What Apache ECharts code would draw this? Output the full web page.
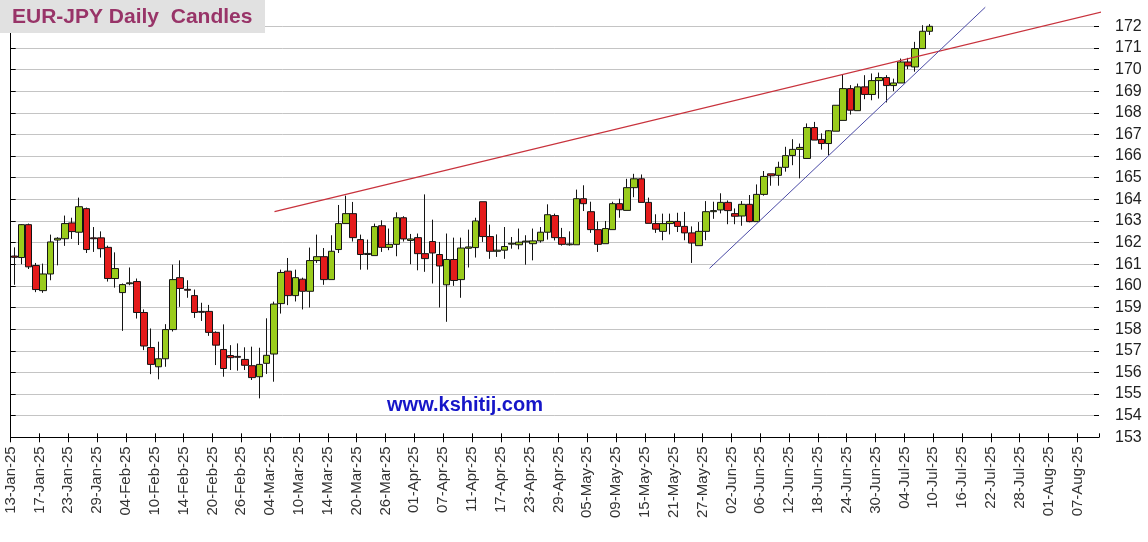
<!DOCTYPE html>
<html>
<head>
<meta charset="utf-8">
<script src="https://cdn.jsdelivr.net/npm/echarts@6/dist/echarts.min.js"></script>
<style>
html,body{margin:0;padding:0;background:#fff;}
#chart{width:1148px;height:542px;}
</style>
</head>
<body>
<div id="chart"></div>
<script>
// ---- data ----
const titleText = 'EUR-JPY Daily  Candles';
const siteText = 'www.kshitij.com';
const firstDay = '2025-01-13';   // first trading day on the axis
const axisDays = 151;            // weekdays spanned by the x axis
const labelEvery = 4;            // a tick label every 4 trading days
const yMin = 153, yMax = 172, yStep = 1;

const openVals = [
161.38,161.31,162.83,160.94,159.78,160.55,162.12,162.18,162.91,162.48,
163.57,162.22,162.22,161.78,160.34,159.69,160.10,160.20,158.77,157.15,
156.26,156.63,157.98,160.38,159.84,159.55,158.82,158.82,157.85,157.06,
156.78,156.74,156.60,156.31,155.80,156.42,156.85,159.18,160.68,159.55,
160.31,159.75,161.17,161.35,160.29,161.68,162.88,163.34,162.14,161.45,
161.40,162.78,161.78,161.92,163.15,162.10,162.23,161.49,162.05,161.45,
160.05,161.22,160.29,161.74,161.77,163.89,162.28,161.60,161.65,161.93,
161.90,162.03,161.95,162.08,162.48,163.25,162.23,161.90,161.90,164.03,
163.43,162.60,161.95,162.60,163.80,163.49,164.54,164.95,163.86,162.88,
162.52,162.88,162.98,162.75,162.45,161.86,162.52,163.43,163.51,163.86,
163.34,163.23,163.77,162.97,164.23,165.18,165.11,165.48,166.03,166.31,
165.89,167.32,166.77,166.58,167.15,167.65,169.12,168.10,169.20,168.85,
169.49,169.63,169.26,169.38,170.35,170.12,170.97,171.77];
const highVals = [
161.78,162.85,162.88,161.06,161.03,162.37,162.25,163.25,163.15,164.08,
163.62,162.72,162.52,161.86,161.55,160.11,160.85,160.34,158.91,158.03,
157.42,158.23,160.98,161.18,160.26,159.83,159.22,159.12,157.90,158.22,
157.26,157.34,157.16,157.19,157.14,158.50,159.27,160.75,161.29,160.75,
160.38,161.77,162.37,161.75,162.34,163.74,164.17,163.88,162.37,162.14,
162.88,163.03,162.65,163.40,163.22,162.40,162.42,164.23,163.06,162.03,
162.42,162.23,162.23,162.60,163.15,163.89,162.83,162.38,162.72,162.26,
162.65,162.34,162.65,162.72,163.77,163.34,162.68,162.52,164.45,164.65,
163.89,162.98,163.00,163.89,164.03,164.95,165.18,165.15,164.08,163.31,
163.34,163.34,163.38,163.42,162.75,162.95,163.92,163.89,164.28,163.95,
163.58,163.92,164.20,164.69,165.31,165.18,165.74,166.43,166.78,166.58,
167.51,167.58,167.05,167.20,168.35,169.77,169.28,169.35,169.74,169.82,
169.86,169.74,169.58,170.51,170.54,171.28,172.05,172.10];
const lowVals = [
160.05,161.00,160.78,159.71,159.68,160.26,160.95,161.85,162.17,161.89,
161.52,161.57,161.31,160.20,159.92,157.92,160.03,158.49,157.03,155.92,
155.68,156.26,157.89,159.03,159.45,158.52,158.38,157.69,156.34,155.80,
156.11,156.08,156.11,155.65,154.80,155.93,155.57,158.72,159.11,159.28,
158.91,159.00,161.06,160.05,160.29,161.52,162.88,162.05,160.75,160.75,
161.40,161.57,161.65,161.37,162.05,161.00,160.72,160.65,160.11,159.00,
158.34,160.00,159.45,160.85,161.31,162.03,161.25,161.34,161.25,161.72,
161.69,160.98,161.18,162.00,162.14,162.10,161.86,161.86,161.90,163.46,
162.45,161.57,161.95,162.60,163.15,163.49,164.10,163.86,162.89,162.45,
162.11,162.38,162.49,162.11,161.06,161.86,162.11,163.10,163.35,162.85,
162.85,162.78,162.94,162.97,164.17,164.63,164.63,165.28,165.58,164.97,
165.89,166.74,166.30,166.05,167.15,167.65,167.92,168.10,168.63,168.58,
168.66,168.48,169.00,169.38,170.02,169.90,170.97,171.60];
const closeVals = [
161.32,162.83,160.88,159.83,160.55,162.03,162.20,162.88,162.51,163.66,
161.68,162.18,161.72,160.34,160.80,160.06,160.14,158.77,157.22,156.37,
156.63,157.98,160.29,159.88,159.80,158.77,158.78,157.85,157.26,156.18,
156.68,156.70,156.33,155.76,156.37,156.79,159.16,160.62,159.55,160.38,
159.75,161.17,161.35,160.29,161.60,162.88,163.34,162.23,161.45,161.50,
162.74,161.78,161.92,163.15,162.17,162.17,161.49,161.26,161.52,160.92,
161.22,160.25,161.75,161.80,163.00,162.28,161.60,161.65,161.82,161.97,
162.02,162.07,162.08,162.48,163.29,162.23,161.92,161.94,164.03,163.80,
162.60,161.92,162.65,163.80,163.52,164.54,164.95,163.86,162.89,162.62,
162.88,162.98,162.75,162.45,161.98,162.52,163.43,163.48,163.86,163.48,
163.22,163.77,162.97,164.23,165.06,165.09,165.48,166.02,166.31,166.40,
167.32,166.74,166.58,167.17,168.35,169.12,168.12,169.20,168.85,169.49,
169.63,169.26,169.38,170.35,170.17,170.97,171.77,172.00];

// trend lines: [position in trading days from left edge, price]
const resistanceLine = [[36.6, 163.43], [154.75, 172.94]];
const supportLine = [[96.96, 160.81], [135.22, 172.88]];

// ---- build weekday categories ----
const MONTHS = ['Jan','Feb','Mar','Apr','May','Jun','Jul','Aug','Sep','Oct','Nov','Dec'];
function weekdayLabels(startISO, count) {
  const out = [];
  const d = new Date(startISO + 'T00:00:00Z');
  while (out.length < count) {
    const wd = d.getUTCDay();
    if (wd !== 0 && wd !== 6) {
      const dd = String(d.getUTCDate()).padStart(2, '0');
      const yy = String(d.getUTCFullYear()).slice(2);
      out.push(dd + '-' + MONTHS[d.getUTCMonth()] + '-' + yy);
    }
    d.setUTCDate(d.getUTCDate() + 1);
  }
  return out;
}
const dayCats = weekdayLabels(firstDay, axisDays);        // candle slots
const edgeCats = weekdayLabels(firstDay, axisDays + 1);   // slot edges (for labels)
const candleData = openVals.map((o, i) => [o, closeVals[i], lowVals[i], highVals[i]]);
const showLabel = (i) => i % labelEvery === 0 && i < axisDays - 1;

const FONT = '"Liberation Sans", Arial, sans-serif';
const chart = echarts.init(document.getElementById('chart'), null, {renderer: 'canvas'});
chart.setOption({
  backgroundColor: '#ffffff',
  animation: false,
  grid: {left: 10.7, right: 49, top: 26.3, bottom: 104.7, containLabel: false},
  xAxis: [
    {
      type: 'category', data: dayCats, boundaryGap: true, position: 'bottom',
      axisLine: {show: false},
      axisTick: {show: true, inside: true, length: 4, interval: (i) => i % labelEvery === 0, lineStyle: {color: '#000', width: 1}},
      axisLabel: {show: false}, splitLine: {show: false}
    },
    {
      type: 'category', data: edgeCats, boundaryGap: false, position: 'bottom',
      axisLine: {show: true, lineStyle: {color: '#000', width: 1}},
      axisTick: {show: true, length: 5, interval: (i) => showLabel(i), lineStyle: {color: '#000', width: 1}},
      axisLabel: {show: true, rotate: 90, interval: (i) => showLabel(i), fontSize: 15, fontFamily: FONT, color: '#333', margin: 9},
      splitLine: {show: false}
    },
    {type: 'value', min: 0, max: axisDays, show: false, position: 'top'}
  ],
  yAxis: [
    {
      type: 'value', position: 'right', min: yMin, max: yMax, interval: yStep,
      axisLine: {show: true, lineStyle: {color: '#000', width: 1}},
      axisTick: {show: true, length: 5, lineStyle: {color: '#000'}},
      axisLabel: {show: true, fontSize: 16, fontFamily: FONT, color: '#222', margin: 16},
      splitLine: {show: true, lineStyle: {color: '#c4c4c4', width: 1}}
    },
    {
      type: 'value', position: 'right', min: yMin, max: yMax, interval: yStep,
      axisLine: {show: false},
      axisTick: {show: true, inside: true, length: 5, lineStyle: {color: '#000'}},
      axisLabel: {show: false}, splitLine: {show: false}
    }
  ],
  series: [
    {
      type: 'candlestick', xAxisIndex: 0, yAxisIndex: 0, data: candleData,
      barWidth: 7, clip: false,
      itemStyle: {color: '#9acc1c', color0: '#e41b1b', borderColor: '#141414', borderColor0: '#141414', borderWidth: 1}
    },
    {
      type: 'line', xAxisIndex: 2, yAxisIndex: 0, data: resistanceLine, clip: false,
      symbol: 'none', lineStyle: {color: '#c8323c', width: 1.2}, z: 5
    },
    {
      type: 'line', xAxisIndex: 2, yAxisIndex: 0, data: supportLine, clip: false,
      symbol: 'none', lineStyle: {color: '#4a4aa6', width: 1}, z: 5
    }
  ],
  graphic: [
    {type: 'rect', left: 0, top: 0, z: 100, shape: {width: 265, height: 33}, style: {fill: '#e1e1e1'}},
    {type: 'text', x: 12, y: 17, z: 101, style: {text: titleText, font: 'bold 21px ' + FONT, fill: '#983468', verticalAlign: 'middle', align: 'left'}},
    {type: 'text', x: 465, y: 405, z: 101, style: {text: siteText, font: 'bold 20px ' + FONT, fill: '#1616c8', verticalAlign: 'middle', align: 'center'}}
  ]
});
</script>
</body>
</html>
